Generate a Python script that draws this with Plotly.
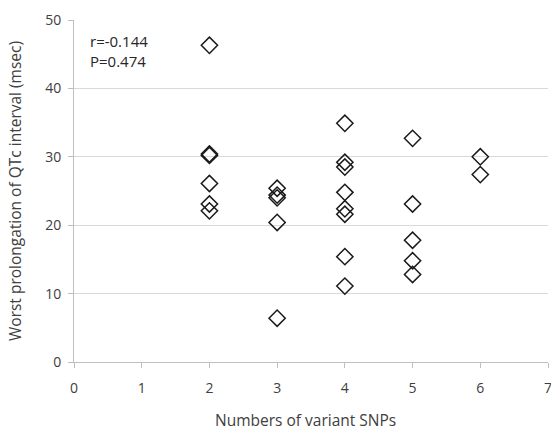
import plotly.graph_objects as go

snps = [2, 2, 2, 2, 2, 2,
        3, 3, 3, 3, 3,
        4, 4, 4, 4, 4, 4, 4, 4,
        5, 5, 5, 5, 5,
        6, 6]
qtc = [46.3, 30.4, 30.2, 26.1, 23.1, 22.1,
       25.4, 24.4, 24.0, 20.4, 6.4,
       34.9, 29.2, 28.5, 24.8, 22.4, 21.6, 15.4, 11.1,
       32.7, 23.1, 17.8, 14.8, 12.8,
       30.0, 27.4]

x_ticks = [0, 1, 2, 3, 4, 5, 6, 7]
y_ticks = [0, 10, 20, 30, 40, 50]
stats_text = "r=-0.144<br>P=0.474"
x_title = "Numbers of variant SNPs"
y_title = "Worst prolongation of QTc interval (msec)"

font = "Open Sans, Liberation Sans, sans-serif"

fig = go.Figure()
fig.add_trace(go.Scatter(
    x=snps, y=qtc, mode="markers",
    marker=dict(symbol="diamond-open", size=12.5, color="#1a1a1a",
                line=dict(width=1.5, color="#1a1a1a")),
    showlegend=False, hoverinfo="x+y",
))

fig.add_annotation(
    x=0.03, y=0.975, xref="paper", yref="paper", xanchor="left", yanchor="top",
    text=stats_text, showarrow=False, align="left",
    font=dict(family=font, size=15, color="#262626"),
)

fig.add_annotation(
    x=0.488, y=-0.17, xref="paper", yref="paper", xanchor="center", yanchor="middle",
    text=x_title, showarrow=False,
    font=dict(family=font, size=15.5, color="#404040"),
)

fig.update_layout(
    width=551, height=430,
    margin=dict(l=74, r=3, t=20, b=68),
    paper_bgcolor="white", plot_bgcolor="white",
    font=dict(family=font, size=14, color="#404040"),
    xaxis=dict(
        range=[0, 7], tickvals=x_ticks, showgrid=False, zeroline=False,
        showline=True, linecolor="#bfbfbf", linewidth=1, automargin=False,
        ticks="outside", ticklen=5, tickcolor="#bfbfbf",
        ticklabelstandoff=8, ticklabeloverflow="allow",
        tickfont=dict(size=14, color="#404040"),
    ),
    yaxis=dict(
        range=[0, 50], tickvals=y_ticks, showgrid=True, gridcolor="#d9d9d9",
        zeroline=False, showline=True, linecolor="#bfbfbf", linewidth=1,
        automargin=False,
        ticks="outside", ticklen=5, tickcolor="#bfbfbf",
        ticklabelstandoff=4,
        title=dict(text=y_title, standoff=19,
                   font=dict(family=font, size=15.5, color="#404040")),
        tickfont=dict(size=14, color="#404040"),
    ),
)

fig.write_html(
    "out.html",
    config={"displayModeBar": False},
    post_script="document.body.style.margin='0';document.body.style.overflow='hidden';",
)
